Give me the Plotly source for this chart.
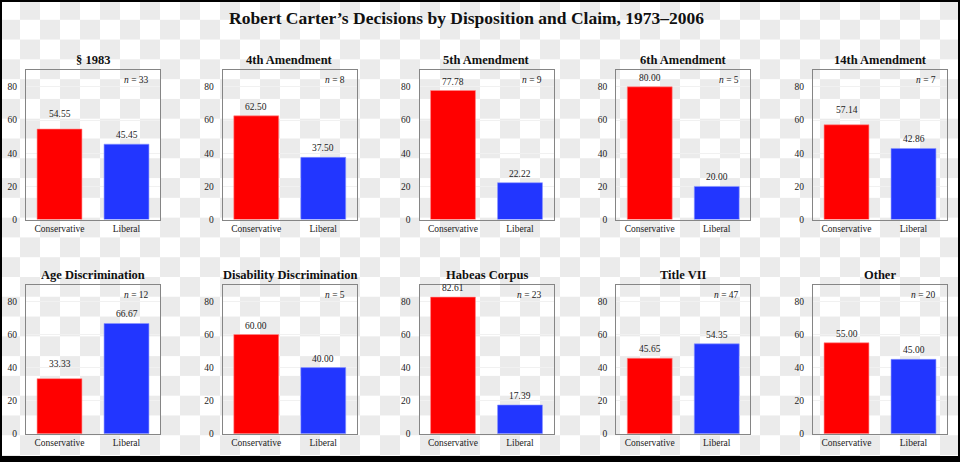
import base64
import plotly.graph_objects as go

# ===========================================================
# DATA
# ===========================================================
claims = ["§ 1983", "4th Amendment", "5th Amendment", "6th Amendment", "14th Amendment",
          "Age Discrimination", "Disability Discrimination", "Habeas Corpus", "Title VII", "Other"]
dispositions = ["Conservative", "Liberal"]
conservative = [54.55, 62.50, 77.78, 80.00, 57.14, 33.33, 60.00, 82.61, 45.65, 55.00]
liberal = [45.45, 37.50, 22.22, 20.00, 42.86, 66.67, 40.00, 17.39, 54.35, 45.00]
n_cases = [33, 8, 9, 5, 7, 12, 5, 23, 47, 20]
y_ticks = [0, 20, 40, 60, 80]

# labels that sit a little higher above the bar in the original
lifted = {("§ 1983", "Conservative"), ("14th Amendment", "Conservative"),
          ("Age Discrimination", "Conservative")}

W, H = 960, 464
RED, BLUE = "#ff0000", "#2236ff"
FONT = "Liberation Serif"

# ===========================================================
# CHECKERBOARD BACKGROUND (transparency look)
# ===========================================================
svg = ('<svg xmlns="http://www.w3.org/2000/svg" width="960" height="464">'
       '<defs><pattern id="c" width="40" height="40" patternUnits="userSpaceOnUse">'
       '<rect width="40" height="40" fill="#ffffff"/>'
       '<rect x="20" width="20" height="20" fill="#ebebeb"/>'
       '<rect y="20" width="20" height="20" fill="#ebebeb"/></pattern></defs>'
       '<rect width="960" height="464" fill="url(#c)"/></svg>')
checker = "data:image/svg+xml;base64," + base64.b64encode(svg.encode()).decode()

fig = go.Figure()
annotations = []

for i, claim in enumerate(claims):
    row, col = divmod(i, 5)
    k = "" if i == 0 else str(i + 1)
    left = 26 + 196.75 * col
    xdom = [left / W, (left + 134) / W]
    if row == 0:
        ydom = [1 - 222 / H, 1 - 71 / H]
    else:
        ydom = [1 - 438.5 / H, 1 - 288 / H]

    vals = [conservative[i], liberal[i]]
    fig.add_trace(go.Bar(
        x=dispositions, y=vals, width=0.67,
        marker=dict(color=[RED, BLUE], line=dict(color=["#ff8a8a", "#8a95ff"], width=0.6)),
        xaxis="x" + k, yaxis="y" + k, showlegend=False, hoverinfo="x+y"
    ))

    axis_common = dict(showline=True, mirror=True, linecolor="#858585", linewidth=1,
                       tickfont=dict(family=FONT, size=9.5, color="#222"), fixedrange=True)
    fig.layout["xaxis" + k] = dict(domain=xdom, anchor="y" + k, range=[-0.5, 1.5],
                                   showgrid=False, **axis_common)
    fig.layout["yaxis" + k] = dict(domain=ydom, anchor="x" + k, range=[0, 90],
                                   tickvals=y_ticks, showgrid=True, gridcolor="#f1f1f1",
                                   zeroline=False, ticklabelstandoff=6, **axis_common)

    # value labels
    for d, v in zip(dispositions, vals):
        annotations.append(dict(
            x=d, y=v, xref="x" + k, yref="y" + k, text=f"{v:.2f}", showarrow=False,
            yanchor="bottom", yshift=8 if (claim, d) in lifted else 2,
            font=dict(family=FONT, size=9.5, color="#222")))

    # n = ...
    annotations.append(dict(
        x=0.93, y=1, xref=f"x{k} domain", yref=f"y{k} domain",
        text=f"<i>n</i> = {n_cases[i]}", showarrow=False, xanchor="right", yanchor="top",
        yshift=-3, font=dict(family=FONT, size=9.5, color="#222")))

    # panel title
    annotations.append(dict(
        x=0.5, y=1, xref=f"x{k} domain", yref=f"y{k} domain",
        text=f"<b>{claim}</b>", showarrow=False, xanchor="center", yanchor="bottom",
        yshift=1, font=dict(family=FONT, size=12.5, color="#111")))

fig.update_layout(
    width=W, height=H,
    margin=dict(l=0, r=0, t=0, b=0),
    paper_bgcolor="white", plot_bgcolor="white",
    title=dict(text="<b>Robert Carter’s Decisions by Disposition and Claim, 1973–2006</b>",
               x=0.486, xanchor="center", y=1 - 18 / H, yanchor="middle",
               font=dict(family=FONT, size=17.5, color="#111")),
    annotations=annotations,
    images=[dict(source=checker, xref="paper", yref="paper", x=0, y=1, sizex=1, sizey=1,
                 xanchor="left", yanchor="top", sizing="stretch", layer="below")],
    shapes=[dict(type="rect", xref="paper", yref="paper", x0=0, x1=1, y0=0, y1=1,
                 line=dict(color="black", width=4)),
            dict(type="line", xref="paper", yref="paper", x0=0, x1=1, y0=0, y1=0,
                 line=dict(color="black", width=6))],
)

# page body has an 8px default margin; drop it so the figure fills the window
fig.write_html("out.html", config={"displayModeBar": False},
               post_script="document.body.style.margin='0px';")
